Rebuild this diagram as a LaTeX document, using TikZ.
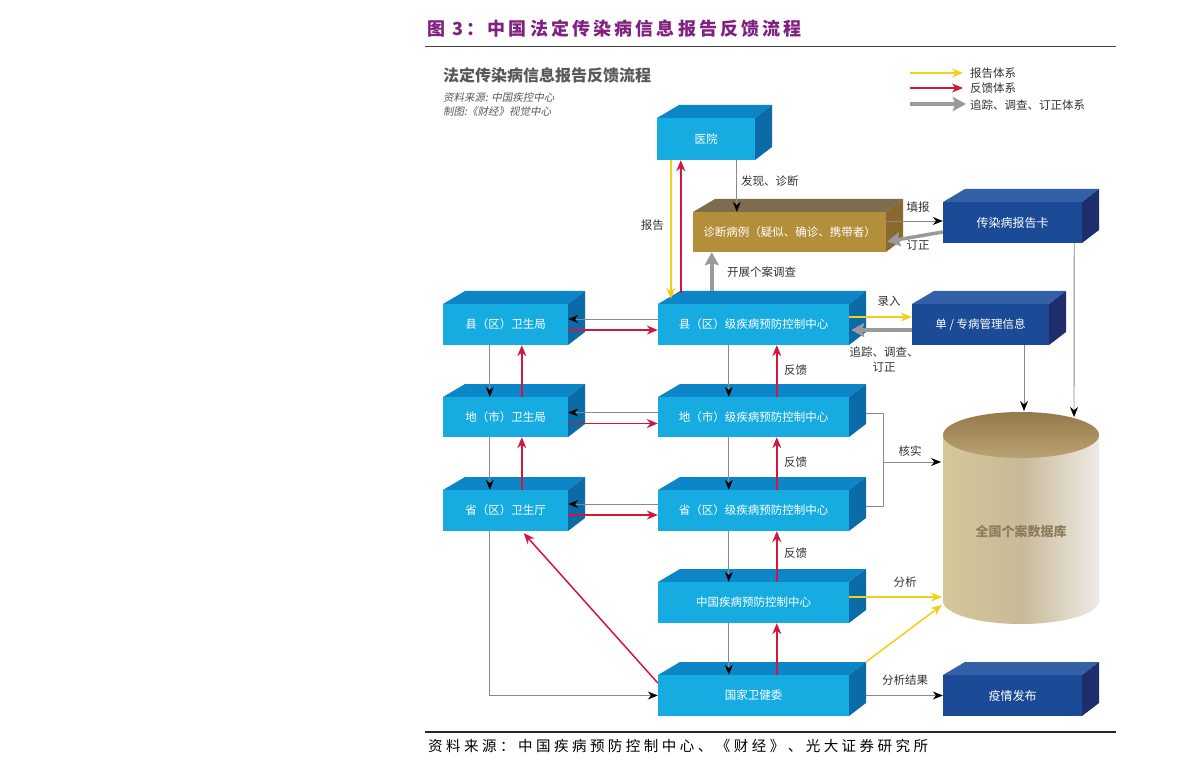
\documentclass[tikz,border=0pt]{standalone}
\usepackage{fontspec}
\setmainfont{Noto Sans CJK SC}
\newfontfamily\cjkslant[FakeSlant=0.2]{Noto Sans CJK SC}
\newfontfamily\titlefont[LetterSpace=17.5]{Noto Sans CJK SC}
\newfontfamily\footfont[LetterSpace=24]{Noto Sans CJK SC}
\usetikzlibrary{arrows.meta,calc}
\definecolor{lbF}{HTML}{17ACE1}
\definecolor{lbT}{HTML}{0C86C6}
\definecolor{lbS}{HTML}{0A6BA6}
\definecolor{dbF}{HTML}{1B4A96}
\definecolor{dbT}{HTML}{3460A8}
\definecolor{dbS}{HTML}{1E2D6B}
\definecolor{gdF}{HTML}{B38E3B}
\definecolor{gdT}{HTML}{7D6C4E}
\definecolor{gdS}{HTML}{8A6A2C}
\definecolor{yel}{HTML}{F2CF1A}
\definecolor{redc}{HTML}{D4163C}
\definecolor{gthick}{HTML}{9A9A9A}
\definecolor{linegray}{HTML}{8A8A8A}
\definecolor{labc}{HTML}{333333}
\definecolor{titlepurple}{HTML}{80207F}
\definecolor{cylL}{HTML}{D6C699}
\definecolor{cylM}{HTML}{C8BA98}
\definecolor{cylR}{HTML}{EEEBE6}
\definecolor{cylT}{HTML}{95794A}
\definecolor{cylB}{HTML}{BAA274}
\definecolor{dbtext}{HTML}{8E7D5E}
\newcommand\cubebox[9]{%
  \fill[#7] (#2,#3) -- ({#2+22},{#3-13}) -- ({#4+17},{#3-13}) -- (#4,#3) -- cycle;
  \fill[#8] (#4,#3) -- ({#4+17},{#3-13}) -- ({#4+17},{#5-13}) -- (#4,#5) -- cycle;
  \fill[#6] (#2,#3) rectangle (#4,#5);
  \node[boxtext, minimum width={(#4-#2)*1pt}, minimum height={(#5-#3)*1pt}] (#1) at ({(#2+#4)/2},{(#3+#5)/2}) {#9};
}
\tikzset{
  thinline/.style={draw=linegray, line width=0.9pt},
  thinarr/.style={thinline, -{Stealth[length=10pt,width=8pt,color=black]}},
  yarr/.style={draw=yel, line width=1.5pt, -{Stealth[length=11pt,width=9pt]}},
  rarr/.style={draw=redc, line width=1.5pt, -{Stealth[length=11pt,width=9pt]}},
  garr/.style={draw=gthick, line width=3.5pt, -{Stealth[length=13pt,width=14pt,inset=2pt]}},
  lab/.style={font=\fontsize{11.5}{15}\selectfont, text=labc, inner sep=0},
  boxtext/.style={font=\fontsize{11.5}{12}\selectfont, text=white, inner sep=0},
}
\begin{document}
\begin{tikzpicture}[x=1pt,y=-1pt]
\useasboundingbox (0,0) rectangle (1191,775);
\fill[white] (0,0) rectangle (1191,775);

% header and footer
\node[anchor=west, inner sep=0, text=titlepurple, font=\titlefont\bfseries\fontsize{18}{20}\selectfont] (title) at (427,29) {图 3：中国法定传染病信息报告反馈流程};
\draw[draw=black!75, line width=1pt] (425,47) -- (1116,47);
\draw[draw=black!85, line width=1.2pt] (425,732) -- (1116,732);
\node[anchor=west, inner sep=0, text=black, font=\footfont\fontsize{14.5}{16}\selectfont] (foot) at (428,746) {资料来源：中国疾病预防控制中心、《财经》、光大证券研究所};

% inner title
\node[anchor=west, inner sep=0, text=black!65, font=\bfseries\fontsize{16}{18}\selectfont] (ititle) at (443,75) {法定传染病信息报告反馈流程};
\node[anchor=west, inner sep=0, text=black!65, font=\cjkslant\fontsize{10.5}{12}\selectfont] (src1) at (443,98) {资料来源: 中国疾控中心};
\node[anchor=west, inner sep=0, text=black!65, font=\cjkslant\fontsize{10.5}{12}\selectfont] (src2) at (443,112) {制图:《财经》视觉中心};

% legend
\coordinate (l1a) at (910,73); \coordinate (l1b) at (963,73);
\coordinate (l2a) at (910,88); \coordinate (l2b) at (963,88);
\coordinate (l3a) at (910,104); \coordinate (l3b) at (966,104);
\draw[yarr] (l1a) -- (l1b);
\draw[rarr] (l2a) -- (l2b);
\draw[garr] (l3a) -- (l3b);
\node[lab, anchor=west] (lg1) at (970,73) {报告体系};
\node[lab, anchor=west] (lg2) at (970,88) {反馈体系};
\node[lab, anchor=west] (lg3) at (970,105) {追踪、调查、订正体系};

% database cylinder
\shade[left color=cylL, right color=cylR, middle color=cylM] (943,435) -- (943,601) arc[start angle=180, end angle=0, x radius=78, y radius=23] -- (1099,435) -- cycle;
\shade[top color=cylT, bottom color=cylB] (1021,435) ellipse[x radius=78, y radius=23];
\node[inner sep=0, text=dbtext, font=\bfseries\fontsize{13}{14}\selectfont] (db) at (1021,532) {全国个案数据库};
\coordinate (dbA) at (1074,417);
\coordinate (dbB) at (1024,411);
\coordinate (dbC) at (941,462);
\coordinate (dbD) at (942,597);
\coordinate (dbE) at (942,605);

% boxes
\cubebox{yy}{657}{118}{755}{160}{lbF}{lbT}{lbS}{医院}
\cubebox{zd}{693}{212}{886}{252}{gdF}{gdT}{gdS}{诊断病例（疑似、确诊、携带者）}
\cubebox{bgk}{943}{202}{1082}{243}{dbF}{dbT}{dbS}{\fontsize{12}{13}\selectfont 传染病报告卡}
\cubebox{xw}{443}{304}{568}{345}{lbF}{lbT}{lbS}{县（区）卫生局}
\cubebox{xc}{658}{304}{849}{345}{lbF}{lbT}{lbS}{县（区）级疾病预防控制中心}
\cubebox{dz}{912}{304}{1049}{345}{dbF}{dbT}{dbS}{单 / 专病管理信息}
\cubebox{dw}{443}{397}{568}{437}{lbF}{lbT}{lbS}{地（市）卫生局}
\cubebox{dc}{658}{397}{849}{437}{lbF}{lbT}{lbS}{地（市）级疾病预防控制中心}
\cubebox{sw}{443}{490}{568}{531}{lbF}{lbT}{lbS}{省（区）卫生厅}
\cubebox{sc}{658}{490}{849}{531}{lbF}{lbT}{lbS}{省（区）级疾病预防控制中心}
\cubebox{zg}{658}{582}{849}{623}{lbF}{lbT}{lbS}{中国疾病预防控制中心}
\cubebox{gj}{658}{675}{849}{716}{lbF}{lbT}{lbS}{国家卫健委}
\cubebox{yq}{943}{675}{1082}{716}{dbF}{dbT}{dbS}{\fontsize{12}{13}\selectfont 疫情发布}

% hospital / diagnosis
\draw[thinarr] ([xshift=80]yy.south west) -- ([xshift=44]zd.north west);
\node[lab, anchor=west] (l_fx) at (741,181) {发现、诊断};
\draw[yarr] ([xshift=14]yy.south west) -- ([xshift=13,yshift=5]xc.north west);
\node[lab, anchor=east] (l_bg) at (664,225) {报告};
\draw[rarr] ([xshift=23,yshift=11]xc.north west) -- ([xshift=24]yy.south west);
\draw[garr] ([xshift=54,yshift=13]xc.north west) -- ([xshift=19]zd.south west);
\node[lab, anchor=west] (l_kz) at (727,272) {开展个案调查};

% diagnosis / report card
\draw[thinarr] ([yshift=11]zd.east) -- ([yshift=1.5]bgk.west);
\node[lab] (l_tb) at (918,207) {填报};
\draw[garr] ([yshift=-9.5]bgk.west) -- ([yshift=-9.5,xshift=1]zd.east);
\node[lab] (l_dz) at (918,245) {订正};
\draw[thinarr] ([xshift=-8]bgk.south east) -- (dbA);

% county CDC / single disease info
\draw[yarr] ([yshift=7.5]xc.east) -- ([yshift=7.5]dz.west);
\node[lab] (l_lr) at (889,301) {录入};
\draw[garr] ([yshift=-5.5]dz.west) -- ([yshift=-5.5,xshift=2]xc.east);
\node[lab, align=center] (l_zz) at (884,360) {追踪、调查、\\订正};
\draw[thinarr] ([xshift=43.5]dz.south) -- (dbB);

% bureau <-> CDC horizontal
\draw[thinarr] ([yshift=5.5]xc.west) -- ([yshift=5.5]xw.east);
\draw[rarr] ([yshift=-5.5]xw.east) -- ([yshift=-5.5]xc.west);
\draw[thinarr] ([yshift=4.5]dc.west) -- ([yshift=4.5]dw.east);
\draw[rarr] ([yshift=-6.5]dw.east) -- ([yshift=-6.5]dc.west);
\draw[thinarr] ([yshift=6.5]sc.west) -- ([yshift=6.5]sw.east);
\draw[rarr] ([yshift=-4.5]sw.east) -- ([yshift=-4.5]sc.west);

% left column vertical
\draw[thinarr] ([xshift=47]xw.south west) -- ([xshift=47]dw.north west);
\draw[rarr] ([xshift=79]dw.north west) -- ([xshift=79]xw.south west);
\draw[thinarr] ([xshift=47]dw.south west) -- ([xshift=47]sw.north west);
\draw[rarr] ([xshift=79]sw.north west) -- ([xshift=79]dw.south west);

% middle column vertical
\draw[thinarr] ([xshift=71]xc.south west) -- ([xshift=71]dc.north west);
\draw[rarr] ([xshift=119]dc.north west) -- ([xshift=119]xc.south west);
\node[lab, anchor=west] (l_fk1) at (784,370) {反馈};
\draw[thinarr] ([xshift=71]dc.south west) -- ([xshift=71]sc.north west);
\draw[rarr] ([xshift=119]sc.north west) -- ([xshift=119]dc.south west);
\node[lab, anchor=west] (l_fk2) at (784,462) {反馈};
\draw[thinarr] ([xshift=71]sc.south west) -- ([xshift=71]zg.north west);
\draw[rarr] ([xshift=119]zg.north west) -- ([xshift=119]sc.south west);
\node[lab, anchor=west] (l_fk3) at (784,553) {反馈};
\draw[thinarr] ([xshift=71]zg.south west) -- ([xshift=71]gj.north west);
\draw[rarr] ([xshift=119]gj.north west) -- ([xshift=119]zg.south west);

% province bureau <-> national commission
\draw[thinarr] ([xshift=47]sw.south west) |- (gj.west);
\draw[rarr] ([yshift=12.5]gj.west) -- ([xshift=81,yshift=-2]sw.south west);

% verification bracket
\coordinate (bk) at (883,462);
\draw[thinline] ([xshift=17,yshift=4]dc.east) -- ([xshift=34,yshift=4]dc.east) |- ([xshift=17,yshift=4]sc.east);
\draw[thinarr] (bk) -- (dbC);
\node[lab] (l_hs) at (910,451) {核实};

% analysis
\draw[yarr] ([yshift=5.5]zg.east) -- (dbD);
\node[lab] (l_fx2) at (905,582) {分析};
\draw[yarr] ([xshift=17,yshift=13]gj.north east) -- (dbE);
\draw[thinarr] ([xshift=17]gj.east) -- (yq.west);
\node[lab] (l_fxjg) at (905,680) {分析结果};
\end{tikzpicture}
\end{document}
